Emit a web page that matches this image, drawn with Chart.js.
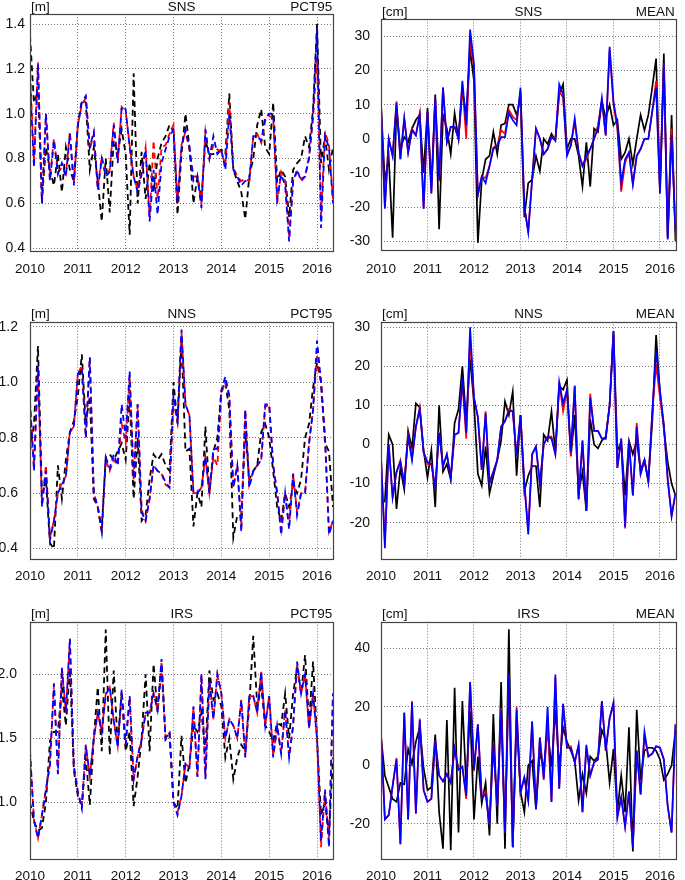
<!DOCTYPE html>
<html>
<head>
<meta charset="utf-8">
<script src="https://cdn.jsdelivr.net/npm/chart.js@4.4.0/dist/chart.umd.min.js"></script>
<style>
  body { margin: 0; background: #fff; width: 685px; height: 880px; position: relative; overflow: hidden; }
  canvas { position: absolute; }
</style>
</head>
<body>
<script>
// monthly time axis, Jan 2010 .. May 2016
const months = Array.from({ length: 77 }, (_, i) => 2010 + i / 12);
const yearTicks = [2010, 2011, 2012, 2013, 2014, 2015, 2016];

// SNS  PCT95 [m]
const snsPctBlack = [1.35,1.05,1.10,0.62,0.85,0.75,0.68,0.82,0.65,0.85,0.75,0.70,
  0.95,1.06,1.05,0.75,0.85,0.70,0.52,0.80,0.56,0.88,0.82,0.93,
  0.82,0.46,1.18,0.60,0.83,0.62,0.78,0.65,0.80,0.87,0.90,0.95,
  0.92,0.55,0.82,1.00,0.85,0.60,0.72,0.62,0.88,0.82,0.82,0.83,
  0.84,0.82,1.09,0.75,0.70,0.65,0.53,0.72,0.80,0.95,1.02,0.85,
  0.82,1.05,0.70,0.75,0.72,0.54,0.75,0.78,0.80,0.90,0.85,1.02,
  1.40,0.78,0.90,0.75,0.85];
const snsPctRed = [1.20,0.78,1.23,0.60,1.00,0.71,0.89,0.74,0.76,0.73,0.92,0.69,
  0.95,1.04,1.07,0.84,0.91,0.67,0.81,0.73,0.75,0.96,0.79,1.03,
  1.01,0.86,0.72,0.66,0.74,0.85,0.54,0.88,0.62,0.85,0.86,0.91,
  0.95,0.60,0.86,0.92,0.84,0.72,0.72,0.60,0.92,0.80,0.86,0.84,
  0.83,0.77,1.05,0.76,0.72,0.70,0.71,0.70,0.90,0.91,0.87,0.97,
  0.99,0.98,0.60,0.74,0.70,0.45,0.70,0.74,0.71,0.72,0.81,0.98,
  1.25,0.55,0.92,0.86,0.62];
const snsPctBlue = [1.15,0.76,1.22,0.60,1.00,0.70,0.88,0.73,0.78,0.72,0.91,0.68,
  0.95,1.05,1.08,0.85,0.92,0.66,0.80,0.72,0.74,0.95,0.78,1.03,
  1.02,0.85,0.72,0.65,0.73,0.84,0.52,0.75,0.55,0.78,0.84,0.90,
  0.93,0.60,0.85,0.93,0.85,0.70,0.72,0.58,0.93,0.80,0.90,0.82,
  0.84,0.75,1.00,0.75,0.72,0.68,0.70,0.70,0.90,0.90,0.88,0.98,
  1.00,1.00,0.62,0.73,0.68,0.43,0.70,0.75,0.70,0.72,0.80,1.00,
  1.38,0.49,0.90,0.85,0.60];

// SNS  MEAN [cm]
const snsMeanBlack = [10,-12.5,-5.5,-29,9,-3,0.5,-1,3,5.5,7,-10,
  9,-14,13,-26.5,7,3,-4.5,7.5,0,14,7,26,
  17,-30.5,-12,-6,-5,2,-4.5,4,4.5,10,10,7,
  12,-23,-13,-12,-5,-9.5,0,-1.5,1.5,-0.5,13,16,
  -3,0,0,-5,-14,-1,-14,3,2,11,6,10,
  4,5.5,-6,-4,0,-7.5,0,7,2.5,7,15,23.5,
  -15,25,-29,7,-30];
const snsMeanRed = [10.5,-20,0,-5,11,-6,6,-4,3,1,7.5,-20.5,
  8,-16,12,-12.5,15,-1,3.5,3.5,0,16,0,29,
  21,-16.5,-11,-11.5,-8,-2.5,-2,2.5,1.5,8.5,6.5,5.5,
  14,-20,-27,-12,3,0,-4.5,-3,0.5,0,14,12,
  -4.5,-2,5,-4,-8,-6,-3,0,4,11,1,26,
  10,3,-15.5,-7,-4,-13,-5,-3,0,0,8,17,
  -16,22,-29,3,-27];
const snsMeanBlue = [10,-20.5,0,-5,10.5,-6,6,-4,2.5,1,7,-20.5,
  8,-16,12,-12,15,-1,3.5,3.5,0,17,4,32,
  22,-16.5,-11,-13,-8,-3,-2,0.5,0.5,7.5,5.5,4,
  15,-20,-27.5,-12,3,0,-4.5,-3,0.5,-0.5,16,13,
  -5,-2,6,-4,-8,-5,-3,0,3,12,1,27,
  11,4,-13,-6,-4,-13.5,-5,-3,0,0,8,15,
  -16,22,-29.5,1,-27];

// NNS  PCT95 [m]
const nnsPctBlack = [0.75,0.85,1.13,0.60,0.65,0.42,0.40,0.70,0.58,0.72,0.82,0.86,
  0.95,1.10,0.85,0.95,0.58,0.55,0.47,0.73,0.74,0.72,0.75,0.78,
  0.72,0.95,0.58,0.80,0.50,0.52,0.65,0.74,0.72,0.74,0.70,0.68,
  1.00,0.85,1.15,0.75,0.76,0.48,0.60,0.55,0.84,0.60,0.75,0.80,
  0.97,1.00,0.90,0.44,0.52,0.52,0.82,0.65,0.68,0.70,0.82,0.85,
  0.80,0.68,0.55,0.50,0.60,0.55,0.63,0.60,0.65,0.80,0.85,0.98,
  1.07,1.00,0.78,0.75,0.55];
const nnsPctRed = [0.92,0.70,1.05,0.56,0.70,0.44,0.50,0.60,0.64,0.66,0.82,0.84,
  1.03,1.06,0.80,1.09,0.60,0.55,0.46,0.72,0.68,0.72,0.70,0.85,
  0.78,1.02,0.65,0.92,0.54,0.50,0.58,0.70,0.68,0.67,0.63,0.62,
  0.93,0.86,1.18,0.92,0.88,0.60,0.60,0.62,0.73,0.60,0.73,0.70,
  0.96,1.00,0.95,0.62,0.70,0.48,0.90,0.63,0.68,0.70,0.72,0.91,
  0.92,0.70,0.60,0.47,0.60,0.48,0.67,0.53,0.60,0.60,0.78,0.90,
  1.10,1.00,0.80,0.46,0.50];
const nnsPctBlue = [0.93,0.68,1.06,0.55,0.68,0.43,0.50,0.60,0.63,0.66,0.82,0.84,
  1.03,1.05,0.80,1.09,0.60,0.55,0.46,0.73,0.69,0.74,0.70,0.92,
  0.80,1.04,0.65,0.92,0.53,0.50,0.58,0.70,0.68,0.67,0.64,0.62,
  0.95,0.86,1.19,0.92,0.88,0.60,0.60,0.62,0.73,0.60,0.76,0.76,
  0.97,1.02,0.95,0.62,0.70,0.46,0.90,0.62,0.68,0.70,0.72,0.92,
  0.92,0.70,0.60,0.45,0.60,0.47,0.67,0.52,0.60,0.60,0.78,0.90,
  1.15,1.00,0.80,0.45,0.50];

// NNS  MEAN [cm]
const nnsMeanBlack = [-15,-14.5,2.5,0,-16.5,-6,-11.5,3.5,-1,10.5,9.5,-1.5,
  -8.5,-1.5,-16,10,-7,-5,-9,5.5,9,20,6,22,
  10.5,-7.5,-10.5,-0.5,-12.5,-8,-4,1,11,7.5,13.5,-8,
  7.5,-12,-8,-5.5,-5.5,-16,2.5,1,8.5,-2,15,14,
  16.5,-3,7.5,-12.5,-7,-17,6.5,0,-1,1,2,10,
  29,-1.5,0.5,-13,1,-2.5,1,-6.5,-4,-9,5.5,28,
  13,4,-4.5,-10,-13];
const nnsMeanRed = [-3,-25,0,-13.5,-7,-4,-10,2.5,-3.5,4.5,9.5,-2,
  -5,-5,-11,3,-5.5,-2.5,-8.5,2.5,3,16,1.5,27,
  12,7,-6.5,8.5,-9.5,-7,-4,4.5,6,9,8.5,-3,
  7.5,-10,-22,-2.5,-0.5,-10,0,2,2,-2.5,16,8.5,
  14,-3,15,-14,1,-17,13,3.5,3.5,1.5,1.5,10,
  28,-6,1.5,-21.5,1,-13,5.5,-7.5,-4,-9.5,8,20.5,
  12,5,-9,-18,-12.5];
const nnsMeanBlue = [-3,-26.5,0,-13.5,-7,-4.5,-10,2,-4,4.5,9,-2,
  -4.5,-5,-11,3,-5.5,-2.5,-8.5,2.5,3,17,3,30,
  12,7,-6.5,8,-10,-7,-4,4.5,6,8.5,8.5,-3,
  7.5,-10,-23,-2.5,-0.5,-10,0,2,1.5,-2.5,16,10.5,
  14,-2,15,-14,1,-17,12,3.5,3.5,1.5,1.5,10,
  29,-6,1.5,-21,1,-13,4.5,-7.5,-4,-9.5,8,24,
  14,5,-9,-18.5,-12.5];

// IRS  PCT95 [m]
const irsPctBlack = [1.00,0.85,0.78,0.80,1.00,1.48,1.55,1.55,1.90,1.60,2.05,1.25,
  1.05,0.98,1.35,0.98,1.50,1.90,1.40,2.35,1.37,2.03,1.45,1.85,
  1.40,1.55,0.97,1.20,1.50,2.00,1.40,2.08,1.70,2.05,1.50,1.55,
  1.00,0.95,1.52,1.15,1.30,1.60,1.55,1.70,1.40,2.03,1.80,1.85,
  1.75,1.35,1.50,1.18,1.35,1.45,1.40,1.75,2.30,1.75,1.90,1.60,
  1.55,1.48,1.62,1.60,1.85,1.50,1.85,2.05,1.85,2.15,1.62,2.10,
  1.50,0.90,1.00,0.75,1.35];
const irsPctRed = [1.38,0.86,0.72,0.90,1.10,1.30,1.92,1.23,2.04,1.70,2.26,1.28,
  1.08,0.96,1.44,1.20,1.50,1.70,1.55,1.85,1.90,1.64,1.44,1.87,
  1.45,1.82,1.18,1.36,1.49,1.70,1.70,1.85,1.72,2.10,1.50,1.54,
  1.00,0.92,1.05,1.30,1.27,1.74,1.20,2.00,1.20,1.95,1.65,2.00,
  1.85,1.50,1.65,1.60,1.50,1.80,1.36,1.83,1.83,1.70,2.02,1.60,
  1.83,1.36,1.60,1.38,1.72,1.36,1.60,2.08,1.85,2.00,1.58,1.85,
  1.50,0.65,1.08,0.70,1.85];
const irsPctBlue = [1.40,0.86,0.72,0.90,1.10,1.29,1.93,1.22,2.05,1.70,2.28,1.28,
  1.08,0.95,1.45,1.20,1.50,1.70,1.55,1.84,1.90,1.64,1.43,1.88,
  1.45,1.83,1.18,1.36,1.49,1.70,1.70,1.85,1.72,2.12,1.49,1.54,
  1.00,0.90,1.05,1.30,1.27,1.75,1.20,2.00,1.18,1.95,1.65,2.00,
  1.85,1.50,1.65,1.60,1.50,1.80,1.35,1.83,1.83,1.70,2.02,1.60,
  1.83,1.35,1.60,1.38,1.72,1.35,1.60,2.10,1.85,2.00,1.58,1.85,
  1.50,0.70,1.10,0.65,1.85];

// IRS  MEAN [cm]
const irsMeanBlack = [10,-3.5,-7.5,-11.5,-12.5,-6,-6.5,5.5,0.5,8,13,-1,
  -8.5,-7.5,10.5,-16,-28.5,15.5,-29,26.5,-23,22,-7,18.5,
  -18.5,3,-13,-6,-24,17.5,-20,28.5,-28.5,46.5,-28,16,
  -9,-16,0,1.5,-15,4.5,-1,12,-0.5,19,-0.5,13,
  8,5,1.5,-12,-3,-9.5,3,1.5,3,12,8.5,-6,
  5.5,-16,-3.5,-16,13,-29.5,19,-5,5,6,6,5,
  2,-5,-3,0,12];
const irsMeanRed = [11,-18.5,-17,-7,2.5,-27,18,-18.5,22,-16.5,16,-8.5,
  -12.5,-11.5,8.5,-3.5,-5.5,-3,-6,6,-1.5,-0.5,-11.5,28.5,
  -2,14,-11,-9,-20,7,-14,19.5,-23,31,-28,20,
  -9.5,-4.5,-12,15,-15,9.5,-5,15,-12.5,30,-8,21,
  6,6.5,1,7,-16,6,-3.5,1,2,22,5,16,
  21,-17,-11,-21,-9,-28,5,-10,10,3,4,6.5,
  6,2,-14,-23,14];
const irsMeanBlue = [10,-18.5,-17,-7,2,-27,18,-18.5,21.5,-16.5,15.5,-8.5,
  -12.5,-11.5,8.5,-3.5,-5.5,-3,-6,5.5,-1.5,-0.5,-10.5,28.5,
  -1.5,14,-11,-10,-20,7,-14,19,-23,31,-28,19,
  -9,-4,-12,15,-15,9.5,-4.5,20,-12.5,31,-8,21,
  6,6,1,7,-16,7,-3.5,1,2,22,5,16,
  21.5,-18,-11,-21,-9,-28,5,-10,11.5,3,4,6.5,
  6,2,-14,-23,14];

// y tick labels per panel
const snsPctTicks = [0.4, 0.6, 0.8, 1.0, 1.2, 1.4];
const snsMeanTicks = [-30, -20, -10, 0, 10, 20, 30];
const nnsPctTicks = [0.4, 0.6, 0.8, 1.0, 1.2];
const nnsMeanTicks = [-20, -10, 0, 10, 20, 30];
const irsPctTicks = [1.0, 1.5, 2.0];
const irsMeanTicks = [-20, 0, 20, 40];

Chart.defaults.font.family = '"Liberation Sans", Arial, Helvetica, sans-serif';
Chart.defaults.font.size = 13;
Chart.defaults.color = '#111';

// frame + header texts ([unit]  REGION  STAT)
const frame = {
  id: 'frame',
  afterDraw(chart, args, opts) {
    const { ctx, chartArea: a } = chart;
    ctx.save();
    ctx.strokeStyle = '#444';
    ctx.lineWidth = 1.2;
    ctx.strokeRect(Math.round(a.left) + 0.5, Math.round(a.top) + 0.5,
      Math.round(a.right - a.left), Math.round(a.bottom - a.top));
    ctx.fillStyle = '#111';
    ctx.font = '13.5px "Liberation Sans", Arial, sans-serif';
    ctx.textBaseline = 'alphabetic';
    const y = a.top - 3.5;
    ctx.textAlign = 'left';
    ctx.fillText(opts.unit, a.left + 1, y);
    ctx.textAlign = 'center';
    ctx.fillText(opts.region, (a.left + a.right) / 2, y);
    ctx.textAlign = 'right';
    ctx.fillText(opts.stat, a.right - 1, y);
    ctx.restore();
  }
};

const panels = [
  { pos: [0, 0, 345, 290], plot: [30, 14, 333.3, 250.7], y: [0.389, 1.445], ticks: snsPctTicks, dec: 1, pad: 5,
    unit: '[m]', region: 'SNS', stat: 'PCT95', dashed: true, series: [snsPctBlue, snsPctRed, snsPctBlack] },
  { pos: [345, 0, 340, 290], plot: [381, 13.3, 684.7, 250.7], y: [-32.8, 35], ticks: snsMeanTicks, dec: 0, pad: 11,
    unit: '[cm]', region: 'SNS', stat: 'MEAN', dashed: false, series: [snsMeanBlue, snsMeanRed, snsMeanBlack] },
  { pos: [0, 290, 345, 290], plot: [30, 321.7, 333.3, 558.3], y: [0.365, 1.218], ticks: nnsPctTicks, dec: 1, pad: 12,
    unit: '[m]', region: 'NNS', stat: 'PCT95', dashed: true, series: [nnsPctBlue, nnsPctRed, nnsPctBlack] },
  { pos: [345, 290, 340, 290], plot: [381, 321.7, 684.7, 558.3], y: [-29.1, 31.4], ticks: nnsMeanTicks, dec: 0, pad: 11,
    unit: '[cm]', region: 'NNS', stat: 'MEAN', dashed: false, series: [nnsMeanBlue, nnsMeanRed, nnsMeanBlack] },
  { pos: [0, 580, 345, 300], plot: [30, 621.7, 333.3, 858.3], y: [0.5625, 2.411], ticks: irsPctTicks, dec: 1, pad: 13,
    unit: '[m]', region: 'IRS', stat: 'PCT95', dashed: true, series: [irsPctBlue, irsPctRed, irsPctBlack] },
  { pos: [345, 580, 340, 300], plot: [381, 621.7, 684.7, 858.3], y: [-31.8, 49.1], ticks: irsMeanTicks, dec: 0, pad: 11,
    unit: '[cm]', region: 'IRS', stat: 'MEAN', dashed: false, series: [irsMeanBlue, irsMeanRed, irsMeanBlack] }
];

const colors = ['#0000ff', '#ff0000', '#000000'];

panels.forEach(p => {
  const [bx, by, bw, bh] = p.pos;
  const [l, t, r, b] = p.plot;
  const cv = document.createElement('canvas');
  cv.width = bw; cv.height = bh;
  cv.style.left = bx + 'px'; cv.style.top = by + 'px';
  cv.style.width = bw + 'px'; cv.style.height = bh + 'px';
  document.body.appendChild(cv);

  const grid = { color: '#777', lineWidth: 1, drawTicks: false };
  const border = { display: false, dash: [1, 2] };

  new Chart(cv, {
    type: 'line',
    data: {
      labels: months,
      datasets: p.series.map((d, i) => ({
        data: d,
        borderColor: colors[i],
        borderWidth: p.dashed ? 1.8 : 1.7,
        borderDash: p.dashed ? [6, 4] : [],
        borderDashOffset: (p.dashed && i === 1) ? 5 : 0,
        pointRadius: 0,
        tension: 0,
        fill: false
      }))
    },
    options: {
      responsive: false,
      animation: false,
      devicePixelRatio: 1,
      layout: { padding: { left: 0, top: t - by, right: bx + bw - r, bottom: 0 } },
      plugins: {
        legend: { display: false },
        tooltip: { enabled: false },
        frame: { unit: p.unit, region: p.region, stat: p.stat }
      },
      scales: {
        x: {
          type: 'linear', min: 2010, max: 2016.34,
          afterFit: s => { s.height = by + bh - b; },
          afterBuildTicks: s => { s.ticks = yearTicks.map(v => ({ value: v })); },
          grid, border,
          ticks: { padding: 10, maxRotation: 0, autoSkip: false, font: { size: 13.5 }, callback: v => String(v) }
        },
        y: {
          min: p.y[0], max: p.y[1],
          afterFit: s => { s.width = l - bx; },
          afterBuildTicks: s => { s.ticks = p.ticks.map(v => ({ value: v })); },
          grid, border,
          ticks: { padding: p.pad, autoSkip: false, font: { size: 14 }, callback: v => v.toFixed(p.dec) }
        }
      }
    },
    plugins: [frame]
  });
});
</script>
</body>
</html>
